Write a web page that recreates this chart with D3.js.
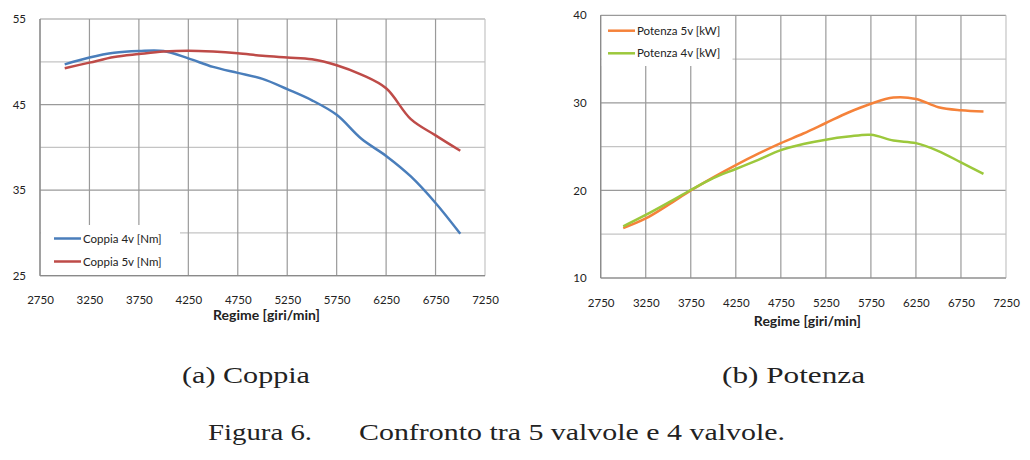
<!DOCTYPE html>
<html>
<head>
<meta charset="utf-8">
<script src="https://cdn.jsdelivr.net/npm/d3@7"></script>
<style>
  body { margin: 0; background: #fff; }
  svg text { font-family: Lato, "Open Sans", sans-serif; fill: #222; }
  svg text.cap { font-family: "Liberation Serif", serif; fill: #222; }
</style>
</head>
<body>
<div id="chart"></div>
<script>
// regime values (rpm)
var rpm = [3000,3250,3500,3750,4000,4250,4500,4750,5000,5250,5500,5750,6000,6250,6500,6750,7000];

// coppia [Nm]
var coppia4v = [49.7,50.5,51.05,51.25,51.25,50.4,49.4,48.7,48.0,46.8,45.5,43.8,41.0,39.0,36.6,33.5,29.9];
var coppia5v = [49.25,49.9,50.55,50.9,51.2,51.3,51.2,51.0,50.7,50.5,50.3,49.6,48.5,46.9,43.3,41.4,39.6];

// potenza [kW]
var potenza5v = [15.7,16.8,18.35,20.0,21.5,22.9,24.2,25.4,26.5,27.7,28.9,29.9,30.6,30.45,29.5,29.15,29.0];
var potenza4v = [15.9,17.2,18.6,20.05,21.4,22.45,23.5,24.6,25.3,25.8,26.15,26.35,25.7,25.4,24.5,23.2,21.9];

var xTicks = [2750,3250,3750,4250,4750,5250,5750,6250,6750,7250];
var coppiaTicks = [25,35,45,55];
var coppiaMinor = [30,40,50];
var potenzaTicks = [10,20,30,40];
var potenzaMinor = [15,25,35];

var svg = d3.select("#chart").append("svg")
    .attr("width", 1030).attr("height", 460);

function drawChart(opt) {
    var x = d3.scaleLinear().domain([2750, 7250]).range([opt.left, opt.right]);
    var y = d3.scaleLinear().domain(opt.yDomain).range([opt.bottom, opt.top]);
    var g = svg.append("g");

    // minor horizontal grid
    g.selectAll(".hmin").data(opt.minor).enter().append("line")
        .attr("x1", opt.left).attr("x2", opt.right)
        .attr("y1", d => y(d)).attr("y2", d => y(d))
        .attr("stroke", "#c4c4c4").attr("stroke-width", 1.2);
    // major horizontal grid
    g.selectAll(".hmaj").data(opt.major).enter().append("line")
        .attr("x1", opt.left).attr("x2", opt.right)
        .attr("y1", d => y(d)).attr("y2", d => y(d))
        .attr("stroke", "#9a9a9a").attr("stroke-width", 1.2);
    // vertical grid
    g.selectAll(".v").data(xTicks).enter().append("line")
        .attr("x1", d => x(d)).attr("x2", d => x(d))
        .attr("y1", opt.top).attr("y2", opt.bottom)
        .attr("stroke", d => d == 7250 ? "#c4c4c4" : "#9a9a9a").attr("stroke-width", 1.2);

    // legend box covers part of the grid
    g.append("rect")
        .attr("x", opt.legend.x).attr("y", opt.legend.y)
        .attr("width", opt.legend.w).attr("height", opt.legend.h)
        .attr("fill", "#fff");

    // axis lines
    g.append("line").attr("x1", opt.left).attr("x2", opt.left)
        .attr("y1", opt.top).attr("y2", opt.bottom).attr("stroke", "#8a8a8a").attr("stroke-width", 1.2);
    g.append("line").attr("x1", opt.left).attr("x2", opt.right)
        .attr("y1", opt.bottom).attr("y2", opt.bottom).attr("stroke", "#8a8a8a").attr("stroke-width", 1.2);

    var xAxis = d3.axisBottom(x).tickValues(xTicks).tickFormat(d3.format("d")).tickSize(0).tickPadding(opt.xPad);
    var ax = g.append("g").attr("transform", "translate(0," + opt.bottom + ")").call(xAxis);
    ax.select(".domain").remove();
    ax.selectAll("text").style("font-family", "Lato, sans-serif").style("font-size", "11.5px").attr("fill", "#333");

    var yAxis = d3.axisLeft(y).tickValues(opt.major).tickSize(0).tickPadding(14);
    var ay = g.append("g").attr("transform", "translate(" + opt.left + ",0)").call(yAxis);
    ay.select(".domain").remove();
    ay.selectAll("text").style("font-family", "Lato, sans-serif").style("font-size", "11.5px").attr("fill", "#333");

    g.append("text")
        .attr("x", (opt.left + opt.right) / 2 + 4).attr("y", opt.bottom + opt.titlePad)
        .attr("text-anchor", "middle")
        .style("font-size", "14px").style("font-weight", "bold")
        .text("Regime [giri/min]");

    var line = d3.line()
        .x((d, i) => x(rpm[i]))
        .y(d => y(d))
        .curve(d3.curveCatmullRom.alpha(0.5));

    opt.series.forEach(function(s, k) {
        g.append("path").datum(s.values)
            .attr("d", line)
            .attr("fill", "none")
            .attr("stroke", s.color)
            .attr("stroke-width", 2.5);
        var ly = opt.legend.ly + k * opt.legend.step;
        g.append("line")
            .attr("x1", opt.legend.lx).attr("x2", opt.legend.lx + 27)
            .attr("y1", ly).attr("y2", ly)
            .attr("stroke", s.color).attr("stroke-width", 2.5);
        g.append("text")
            .attr("x", opt.legend.lx + 29).attr("y", ly + 4)
            .style("font-size", "11.5px").attr("fill", "#333")
            .text(s.name);
    });
}

drawChart({
    left: 40, right: 485, top: 19, bottom: 275.7,
    yDomain: [25, 55], major: coppiaTicks, minor: coppiaMinor,
    xPad: 20, titlePad: 44,
    legend: { x: 41, y: 225, w: 139, h: 50, lx: 54, ly: 238.5, step: 23 },
    series: [
        { name: "Coppia 4v [Nm]", values: coppia4v, color: "#4a7ebb" },
        { name: "Coppia 5v [Nm]", values: coppia5v, color: "#be4b48" }
    ]
});

drawChart({
    left: 600.7, right: 1006, top: 15.3, bottom: 278,
    yDomain: [10, 40], major: potenzaTicks, minor: potenzaMinor,
    xPad: 21, titlePad: 48,
    legend: { x: 601.5, y: 16, w: 131, h: 50, lx: 608, ly: 30.7, step: 22.6 },
    series: [
        { name: "Potenza 5v [kW]", values: potenza5v, color: "#f5823a" },
        { name: "Potenza 4v [kW]", values: potenza4v, color: "#9cc83c" }
    ]
});

// captions
svg.append("text").attr("class", "cap").attr("x", 182).attr("y", 383)
    .style("font-size", "23px").attr("textLength", 128).attr("lengthAdjust", "spacingAndGlyphs")
    .text("(a)  Coppia");
svg.append("text").attr("class", "cap").attr("x", 722).attr("y", 383)
    .style("font-size", "23px").attr("textLength", 143).attr("lengthAdjust", "spacingAndGlyphs")
    .text("(b)  Potenza");
svg.append("text").attr("class", "cap").attr("x", 208).attr("y", 440)
    .style("font-size", "23px").attr("textLength", 104).attr("lengthAdjust", "spacingAndGlyphs")
    .text("Figura 6.");
svg.append("text").attr("class", "cap").attr("x", 359).attr("y", 440)
    .style("font-size", "23px").attr("textLength", 426).attr("lengthAdjust", "spacingAndGlyphs")
    .text("Confronto tra 5 valvole e 4 valvole.");
</script>
</body>
</html>
